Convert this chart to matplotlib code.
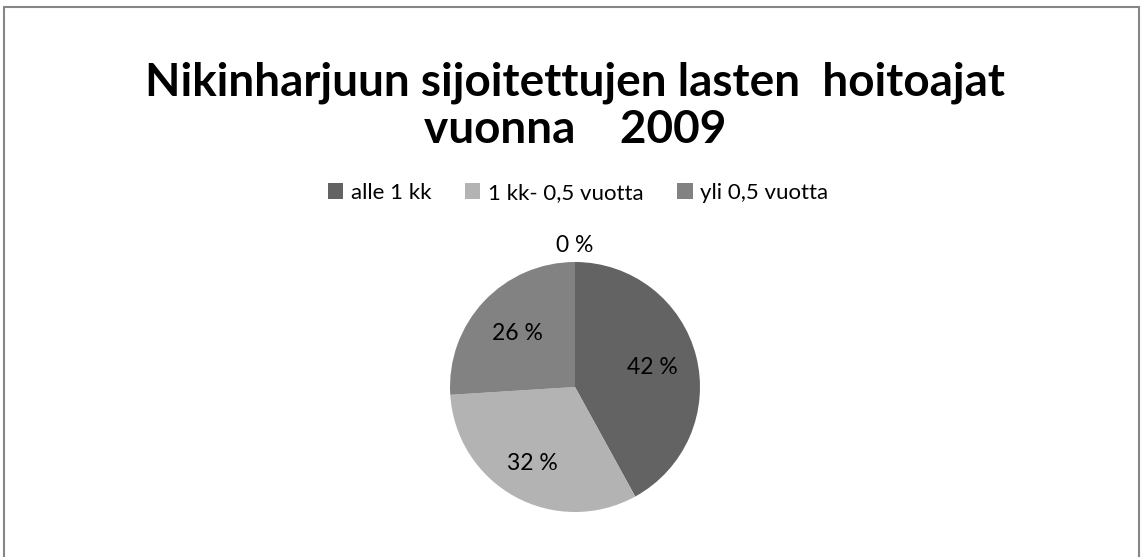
import matplotlib
matplotlib.use("Agg")
import matplotlib.pyplot as plt
from matplotlib.patches import Rectangle, Patch
import numpy as np

plt.rcParams['font.family'] = ['Lato', 'DejaVu Sans']

title = "Nikinharjuun sijoitettujen lasten  hoitoajat\nvuonna    2009"
categories = ["alle 1 kk", "1 kk- 0,5 vuotta", "yli 0,5 vuotta", ""]
values = [42, 32, 26, 0]
labels = ["42 %", "32 %", "26 %", "0 %"]
colors = ["#636363", "#b3b3b3", "#828282", "#4a4a4a"]
label_dist = [0.64, 0.70, 0.63, 1.13]

W, H = 1143, 557
fig = plt.figure(figsize=(W / 100, H / 100), dpi=100)

# outer border
fig.patches.append(Rectangle((4 / W, -0.05), (1139 - 4) / W, 1.05 - 7 / H,
                             transform=fig.transFigure, fill=False,
                             edgecolor="#868686", linewidth=1.5))

fig.text(575 / W, 1 - 106 / H, title, ha="center", va="center",
         fontsize=33, fontweight="bold", linespacing=1.15, color="black")

ax = fig.add_axes([450 / W, 1 - 512 / H, 250 / W, 250 / H])
wedges, _ = ax.pie(values, colors=colors, startangle=90, counterclock=False,
                   radius=1, wedgeprops=dict(linewidth=0))
ax.set_xlim(-1, 1)
ax.set_ylim(-1, 1)
ax.set_aspect("equal")
ax.axis("off")

for w, lab, d in zip(wedges, labels, label_dist):
    ang = np.deg2rad((w.theta1 + w.theta2) / 2)
    ax.text(d * np.cos(ang), d * np.sin(ang), lab, ha="center", va="center",
            fontsize=16.5, color="black", clip_on=False)

handles = [Patch(facecolor=c, edgecolor="none") for c in colors[:3]]
fig.legend(handles, categories[:3], loc="center", ncol=3,
           bbox_to_anchor=(578 / W, 1 - 193 / H), frameon=False,
           fontsize=16, handlelength=0.7, handleheight=0.7,
           handletextpad=0.35, columnspacing=1.5)

fig.savefig("out.png", dpi=100)
